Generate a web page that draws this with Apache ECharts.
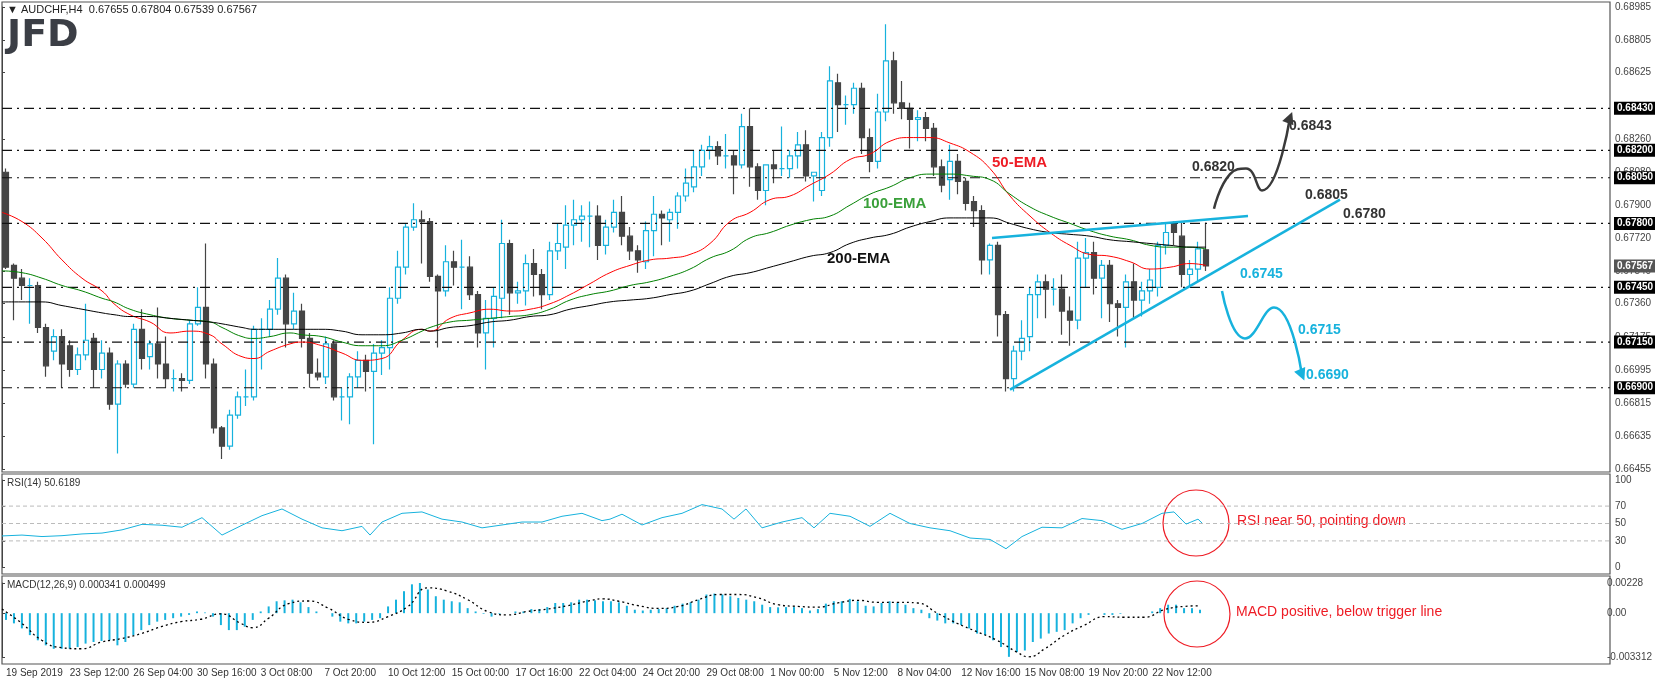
<!DOCTYPE html>
<html><head><meta charset="utf-8">
<script src="https://cdn.jsdelivr.net/npm/echarts@6/dist/echarts.min.js"></script>
<style>html,body{margin:0;padding:0;background:#fff;}#c{width:1655px;height:686px;}</style>
</head><body><div id="c"></div>
<script>
// ---------- DATA ----------
const xLabels = ['19 Sep 2019','23 Sep 12:00','26 Sep 04:00','30 Sep 16:00','3 Oct 08:00','7 Oct 20:00','10 Oct 12:00','15 Oct 00:00','17 Oct 16:00','22 Oct 04:00','24 Oct 20:00','29 Oct 08:00','1 Nov 00:00','5 Nov 12:00','8 Nov 04:00','12 Nov 16:00','15 Nov 08:00','19 Nov 20:00','22 Nov 12:00'];
// 8-hour candles
const opens = [.6808,.6757,.6750,.6746,.6746,.6723,.6710,.6718,.6713,.6700,.6708,.6717,.6700,.6709,.6681,.6703,.6692,.6722,.6707,.6714,
.6703,.6695,.6695,.6694,.6725,.6734,.6703,.6668,.6658,.6675,.6685,.6685,.6722,.6722,.6733,.6750,.6725,.6732,.6717,.6698,
.6696,.6714,.6685,.6685,.6696,.6705,.6699,.6709,.6712,.6739,.6756,.6778,.6782,.6781,.6751,.6743,.6759,.6756,.6756,.6741,
.6720,.6728,.6739,.6769,.6742,.6743,.6758,.6752,.6741,.6765,.6767,.6779,.6782,.6784,.6784,.6768,.6778,.6786,.6773,.6765,
.6759,.6776,.6785,.6782,.6786,.6795,.6800,.6811,.6820,.6822,.6817,.6817,.6812,.6833,.6811,.6798,.6812,.6810,.6810,.6817,
.6823,.6806,.6798,.6827,.6857,.6845,.6845,.6854,.6827,.6814,.6841,.6869,.6846,.6843,.6837,.6838,.6832,.6811,.6804,.6814,
.6803,.6792,.6787,.6760,.6768,.6730,.6695,.6710,.6718,.6741,.6748,.6744,.6744,.6732,.6727,.6761,.6764,.6750,.6757,.6736,
.6734,.6748,.6738,.6743,.6745,.6768,.6780,.6773,.6752,.6755,.67655];
const closes = [.6756,.6750,.6746,.6746,.6723,.6702,.6718,.6703,.6700,.6708,.6716,.6700,.6709,.6681,.6703,.6692,.6722,.6706,.6714,.6703,
.6695,.6695,.6694,.6725,.6734,.6703,.6668,.6658,.6675,.6685,.6685,.6722,.6722,.6733,.6750,.6725,.6732,.6717,.6698,.6696,
.6714,.6685,.6685,.6696,.6705,.6699,.6709,.6712,.6739,.6756,.6778,.6782,.6781,.6751,.6743,.6759,.6756,.6756,.6741,.6720,
.6728,.6740,.6769,.6742,.6743,.6758,.6752,.6741,.6765,.6769,.6779,.6782,.6784,.6784,.6768,.6778,.6786,.6773,.6765,.6760,
.6776,.6785,.6783,.6786,.6795,.6802,.6811,.6820,.6822,.6817,.6817,.6812,.6833,.6811,.6798,.6812,.6810,.6810,.6817,.6823,
.6806,.6808,.6827,.6858,.6845,.6845,.6854,.6827,.6814,.6841,.6869,.6846,.6843,.6837,.6838,.6832,.6811,.6801,.6814,.6803,
.6791,.6787,.6760,.6768,.6730,.6695,.6710,.6717,.6741,.6748,.6744,.6744,.6732,.6727,.6761,.6764,.6750,.6757,.6736,.6734,
.6748,.6738,.6743,.6749,.6768,.6775,.6775,.6752,.6755,.6766,.67567];
const lows = [.6755,.6727,.6738,.6725,.6720,.6696,.6705,.6690,.6696,.6697,.6705,.6690,.6695,.6678,.6654,.6690,.6690,.6700,.6700,.6695,
.6690,.6688,.6688,.6692,.6724,.6695,.6665,.6651,.6656,.6673,.6680,.6683,.6700,.6718,.6730,.6712,.6722,.6712,.6690,.6694,
.6692,.6683,.6672,.6670,.6690,.6688,.6659,.6697,.6700,.6736,.6752,.6776,.6758,.6748,.6712,.6740,.6746,.6733,.6738,.6712,
.6700,.6712,.6728,.6730,.6736,.6735,.6740,.6733,.6738,.6760,.6755,.6768,.6770,.6767,.6760,.6763,.6775,.6768,.6760,.6753,
.6755,.6762,.6768,.6770,.6777,.6792,.6797,.6806,.6815,.6812,.6810,.6796,.6810,.6800,.6793,.6790,.6802,.6806,.6805,.6810,
.6803,.6792,.6795,.6822,.6830,.6834,.6840,.6818,.6808,.6810,.6836,.6840,.6837,.6821,.6825,.6825,.6806,.6797,.6793,.6796,
.6787,.6778,.6752,.6752,.6718,.6688,.6688,.6705,.6710,.6728,.6728,.6735,.6719,.6713,.6722,.6745,.6741,.6728,.6726,.6718,
.6712,.6728,.6729,.6736,.6740,.6763,.6768,.6745,.6745,.6748,.67539];
const highs = [.6810,.6758,.6755,.6750,.6748,.6725,.6722,.6722,.6716,.6712,.6736,.6720,.6716,.6712,.6705,.6705,.6725,.6733,.6716,.6734,
.6718,.6700,.6698,.6727,.6745,.6769,.6706,.6669,.6678,.6688,.6700,.6724,.6728,.6738,.6761,.6752,.6742,.6736,.6720,.6706,
.6718,.6716,.6690,.6698,.6710,.6708,.6714,.6716,.6745,.6765,.6780,.6791,.6787,.6783,.6752,.6768,.6765,.6771,.6762,.6743,
.6738,.6745,.6782,.6771,.6748,.6763,.6766,.6755,.6770,.6780,.6790,.6793,.6790,.6792,.6790,.6782,.6793,.6795,.6778,.6768,
.6781,.6795,.6787,.6788,.6797,.6810,.6820,.6823,.6828,.6825,.6829,.6820,.6840,.6843,.6813,.6812,.6820,.6833,.6820,.6830,
.6831,.6808,.6830,.6866,.6862,.6850,.6857,.6857,.6832,.6851,.6889,.6874,.6858,.6846,.6842,.6841,.6835,.6815,.6823,.6818,
.6805,.6795,.6790,.6769,.6770,.6732,.6713,.6727,.6745,.6752,.6752,.6750,.6752,.6740,.6770,.6772,.6770,.6760,.6760,.6738,
.6752,.6758,.6748,.6755,.6770,.6780,.6781,.6781,.6760,.6770,.67804];
// H4 bar index of indicator samples
const emaBars = [0,5,10,15,20,25,28,32,37,42,47,52,55,60,63,67,72,75,80,85,90,95,100,105,107,112,117,122,127,132,137,142,147,152,157,162,167,172,177,182,187,192,197,202,207,212,217,222,227,232,237,242,247,252,257,262,267,272,277,282,287,292,297,301];
const ema50 = [.6786,.6781,.6772,.6760,.6750,.6743,.6736,.6730,.6726,.6720,.6721,.6719,.6714,.6707,.6706,.6710,.6714,.6715,.6713,.6709,.6705,.6706,.6716,.6722,.6721,.6728,.6731,.6733,.6732,.6733,.6736,.6741,.6747,.6753,.6757,.6760,.6761,.6763,.6769,.6781,.6786,.6793,.6795,.6801,.6807,.6815,.6818,.6825,.6827,.6827,.6824,.6819,.6810,.6795,.6784,.6775,.6768,.6763,.6762,.6759,.6755,.6756,.6758,.6757];
const ema100 = [.6754,.6753,.6750,.6746,.6743,.6739,.6737,.6733,.6730,.6728,.6727,.6726,.6723,.6718,.6717,.6718,.6720,.6719,.6718,.6715,.6713,.6713,.6716,.6721,.6723,.6726,.6727,.6728,.6729,.6730,.6733,.6738,.6741,.6743,.6746,.6748,.6751,.6755,.6761,.6765,.6772,.6775,.6779,.6782,.6784,.6790,.6796,.6800,.6805,.6807,.6807,.6806,.6804,.6796,.6789,.6784,.6780,.6776,.6773,.6771,.6768,.6767,.6767,.6766];
const ema200 = [.6737,.6737,.6737,.6735,.6733,.6731,.6730,.6729,.6729,.6728,.6727,.6726,.6725,.6723,.6722,.6722,.6722,.6722,.6722,.6721,.6719,.6719,.6720,.6722,.6721,.6723,.6724,.6726,.6727,.6729,.6730,.6733,.6735,.6737,.6738,.6739,.6741,.6743,.6747,.6751,.6753,.6756,.6759,.6762,.6764,.6769,.6772,.6774,.6778,.6781,.6783,.6783,.6783,.6780,.6777,.6775,.6774,.6773,.6771,.6770,.6769,.6768,.6767,.6767];
const rsiBars = [0,5,10,15,20,25,30,35,40,45,50,55,60,65,70,75,80,85,90,92,95,100,105,110,115,120,125,130,135,140,145,150,152,155,160,165,170,175,180,183,186,190,195,200,203,207,212,217,222,227,232,237,242,247,251,255,260,265,270,275,280,285,290,293,296,299,300];
const rsi = [35.7,36.7,35,36,38,39,42.7,49,48,45.7,56.7,36.7,48,59,66.7,55,45,41.7,46.7,36.7,51.7,61.7,63.3,55,51.7,45,48.3,51.7,51.7,58.3,61.7,53.3,55,60.7,48.3,56.7,61.7,71.7,66.7,55,66.7,45,51.7,56.7,45,61.7,58.3,46.7,61.7,50,45,41.7,33.3,31.7,21,35,45.7,45,55.7,53.3,43.3,50,61.7,63.3,49.3,55,50.6];
// MACD histogram per 8h candle
const macdHist = [-.00051,-.00077,-.00115,-.00166,-.00205,-.00243,-.00269,-.00269,-.00269,-.00256,-.00230,-.00218,-.00210,-.00205,-.00243,-.00218,-.00166,-.00128,-.00090,-.00064,
-.00051,-.00038,-.00026,-.00013,.00013,.00005,-.00026,-.00090,-.00128,-.00128,-.00102,-.00051,.00013,.00051,.00090,.00097,.00102,.00082,.00046,.00013,
0,-.00026,-.00064,-.00077,-.00077,-.00064,-.00051,-.00038,.00051,.00102,.00166,.00218,.00230,.00179,.00128,.00102,.00090,.00082,.00038,.00013,
-.00005,-.00026,-.00005,0,.00013,.00013,.00031,.00031,.00046,.00077,.00077,.00082,.00102,.00102,.00097,.00090,.00090,.00082,.00056,.00026,
.00020,.00026,.00031,.00038,.00056,.00072,.00082,.00102,.00141,.00148,.00141,.00128,.00115,.00102,.00090,.00064,.00046,.00044,.00046,.00046,
.00038,.00020,.00031,.00072,.00090,.00090,.00108,.00090,.00056,.00051,.00077,.00090,.00077,.00064,.00038,.00026,-.00038,-.00056,-.00077,-.00077,
-.00090,-.00115,-.00154,-.00166,-.00205,-.00256,-.0033,-.00294,-.00282,-.00218,-.00192,-.00154,-.00141,-.00128,-.00077,-.00038,-.00013,0,-.00013,-.00013,
-.00005,0,0,0,.00013,.00038,.00064,.00064,.00038,.00038,.00026];
const sigBars = [0,5,10,15,20,25,30,35,40,45,50,55,60,63,67,72,77,82,87,92,97,102,107,112,117,122,127,132,137,142,147,151,155,160,165,170,175,180,185,190,195,200,205,210,215,220,225,230,235,240,245,250,255,258,262,267,272,277,282,287,292,297,301];
const macdSignal = [.00031,-.00077,-.00205,-.00261,-.00269,-.00218,-.00192,-.00154,-.00102,-.00064,-.00046,-.00005,-.00077,-.00110,-.00038,.00072,.00092,.00038,-.00046,-.00069,-.00026,.00051,.00192,.00166,.00102,.00013,-.00013,.00013,.00031,.00056,.00090,.00108,.00090,.00056,.00036,.00051,.00102,.00141,.00141,.00115,.00064,.00051,.00046,.00077,.00097,.00082,.00082,.00077,0,-.00077,-.00141,-.00205,-.00294,-.0033,-.00269,-.00166,-.00090,-.00026,-.00031,-.00031,.00026,.00051,.00056];
const levels = [0.6843,0.6820,0.6805,0.6780,0.6745,0.6715,0.6690];
const lastPrice = 0.67567;
const priceTicks = [0.68985,0.68805,0.68625,0.6826,0.6808,0.679,0.6772,0.6754,0.6736,0.67175,0.66995,0.66815,0.66635,0.66455];
const rsiTicks = [0,30,50,70,100];
const rsiLevels = [30,50,70];
const macdTicks = [-0.003312,0,0.00228];
// drawn analysis lines: [H4 bar, price]
const supportLine = [[252,0.6689],[334.5,0.6793]];
const resistLine = [[247.5,0.6772],[311.5,0.6784]];
const bullPath = [[303,0.6788],[307,0.6807],[311,0.6810],[315,0.6798],[322,0.6838]];
const bearPath = [[305,0.6743],[310.75,0.6717],[318,0.6734],[325,0.6697]];

// ---------- CHART ----------
const NB = 201, XMAX = 402;
const cats = Array.from({length: NB}, (_, i) => String(i));
const zip = (a, b) => a.map((v, i) => [v, b[i]]);
const candles = opens.map((o, i) => [o, closes[i], lows[i], highs[i]]);
const CY = '#17b2dd', FONT = 'Liberation Sans';
const L = 2, R = 45;
const ch = echarts.init(document.getElementById('c'));
const pathSeries = (data, color, rot) => ({
  type: 'line', xAxisIndex: 1, yAxisIndex: 0, smooth: 0.5, data: data.map((p, i) => ({
    value: p, symbol: i === data.length - 1 ? 'triangle' : 'none', symbolSize: [12, 12], symbolRotate: rot,
    itemStyle: {color}})), lineStyle: {color, width: 2.5}, silent: true, z: 6
});
const levelSeries = (v, bg, visible) => ({
  type: 'line', xAxisIndex: 1, yAxisIndex: 0, data: [[0, v], [XMAX, v]], symbol: 'none', silent: true, z: 3,
  lineStyle: {color: '#111', type: [10, 5, 2, 5], width: 1.2, opacity: visible ? 1 : 0},
  endLabel: {show: true, distance: 4, formatter: v.toFixed(5), color: '#fff', backgroundColor: bg, padding: [2, 3, 1, 3], fontSize: 10, fontWeight: 'bold'}
});
ch.setOption({
  animation: false,
  textStyle: {fontFamily: FONT},
  grid: [
    {left: L, right: R, top: 7, height: 462},
    {left: L, right: R, top: 480, height: 87},
    {left: L, right: R, top: 583, height: 74}
  ],
  xAxis: [
    {type: 'category', data: cats, gridIndex: 0, position: 'bottom', boundaryGap: true, axisLine: {show: false}, axisTick: {show: false}, axisLabel: {show: false}},
    {type: 'value', gridIndex: 0, min: 0, max: XMAX, show: false},
    {type: 'value', gridIndex: 1, min: 0, max: XMAX, show: false},
    {type: 'value', gridIndex: 2, min: 0, max: XMAX, show: false, position: 'top'},
    {type: 'category', data: cats, gridIndex: 2, position: 'bottom', boundaryGap: true, axisLine: {show: false}, axisTick: {show: false},
      axisLabel: {interval: (i) => i % 8 === 0 && i / 8 < xLabels.length, formatter: (v, i) => xLabels[i / 8] || '',
        align: 'left', margin: 11, fontSize: 10, color: '#333'}}
  ],
  yAxis: [
    {type: 'value', gridIndex: 0, position: 'right', min: 0.66455, max: 0.68985, splitLine: {show: false},
      axisLine: {show: true, lineStyle: {color: '#444'}}, axisTick: {show: true, customValues: priceTicks, length: 3, lineStyle: {color: '#444'}},
      axisLabel: {customValues: priceTicks, formatter: v => v.toFixed(5), fontSize: 10, color: '#444', margin: 5}},
    {type: 'value', gridIndex: 1, position: 'right', min: 0, max: 100, splitLine: {show: false},
      axisLine: {show: true, lineStyle: {color: '#444'}}, axisTick: {show: true, customValues: rsiTicks, length: 3},
      axisLabel: {customValues: rsiTicks, fontSize: 10, color: '#444', margin: 5}},
    {type: 'value', gridIndex: 2, position: 'right', min: -0.003312, max: 0.00228, splitLine: {show: false},
      axisLine: {show: true, lineStyle: {color: '#444'}}, axisTick: {show: true, customValues: macdTicks, length: 3},
      axisLabel: {customValues: macdTicks, formatter: v => Math.abs(v) < 1e-9 ? '0.00' : String(v), fontSize: 10, color: '#444', margin: 5}}
  ],
  series: [
    {type: 'candlestick', xAxisIndex: 0, yAxisIndex: 0, data: candles, barWidth: 5,
      itemStyle: {color: '#fff', color0: '#454545', borderColor: CY, borderColor0: '#454545', borderWidth: 1.2}},
    ...levels.map(v => levelSeries(v, '#000', true)),
    levelSeries(lastPrice, '#555', false),
    {type: 'line', xAxisIndex: 1, yAxisIndex: 0, data: zip(emaBars, ema50), smooth: true, symbol: 'none', lineStyle: {color: '#ff0000', width: 1}},
    {type: 'line', xAxisIndex: 1, yAxisIndex: 0, data: zip(emaBars, ema100), smooth: true, symbol: 'none', lineStyle: {color: '#008000', width: 1}},
    {type: 'line', xAxisIndex: 1, yAxisIndex: 0, data: zip(emaBars, ema200), smooth: true, symbol: 'none', lineStyle: {color: '#000', width: 1}},
    {type: 'line', xAxisIndex: 1, yAxisIndex: 0, data: supportLine, symbol: 'none', lineStyle: {color: CY, width: 2.5}, z: 5},
    {type: 'line', xAxisIndex: 1, yAxisIndex: 0, data: resistLine, symbol: 'none', lineStyle: {color: CY, width: 2.5}, z: 5},
    pathSeries(bullPath, '#3a3a3a', -21),
    pathSeries(bearPath, CY, 203),
    ...rsiLevels.map(v => ({type: 'line', xAxisIndex: 2, yAxisIndex: 1, data: [[0, v], [XMAX, v]], symbol: 'none', silent: true,
      lineStyle: {color: '#bbb', type: [4, 3], width: 1}})),
    {type: 'line', xAxisIndex: 2, yAxisIndex: 1, data: zip(rsiBars, rsi), symbol: 'none', lineStyle: {color: CY, width: 1}},
    {type: 'bar', xAxisIndex: 4, yAxisIndex: 2, data: macdHist, barWidth: 2, itemStyle: {color: CY}},
    {type: 'line', xAxisIndex: 3, yAxisIndex: 2, data: zip(sigBars, macdSignal), smooth: true, symbol: 'none', lineStyle: {color: '#000', width: 1.3, type: [2, 3]}}
  ],
  graphic: [
    {type: 'rect', shape: {x: 2, y: 2, width: 1608, height: 470}, style: {fill: 'none', stroke: '#555', lineWidth: 1.2}, silent: true},
    {type: 'rect', shape: {x: 2, y: 474, width: 1608, height: 100}, style: {fill: 'none', stroke: '#555', lineWidth: 1.2}, silent: true},
    {type: 'rect', shape: {x: 2, y: 576, width: 1608, height: 88}, style: {fill: 'none', stroke: '#555', lineWidth: 1.2}, silent: true},
    {type: 'text', left: 7, top: 4, style: {text: '▼ AUDCHF,H4  0.67655 0.67804 0.67539 0.67567', font: '11px ' + FONT, fill: '#222'}},
    {type: 'text', left: 7, top: 17, style: {text: 'JFD', font: 'bold 38px "DejaVu Sans"', fill: '#3b3e45'}},
    {type: 'text', left: 7, top: 478, style: {text: 'RSI(14) 50.6189', font: '10px ' + FONT, fill: '#333'}},
    {type: 'text', left: 7, top: 580, style: {text: 'MACD(12,26,9) 0.000341 0.000499', font: '10px ' + FONT, fill: '#333'}},
    {type: 'text', left: 992, top: 155, style: {text: '50-EMA', font: 'bold 15px ' + FONT, fill: '#ee1c25'}},
    {type: 'text', left: 863, top: 196, style: {text: '100-EMA', font: 'bold 15px ' + FONT, fill: '#3aa03a'}},
    {type: 'text', left: 827, top: 251, style: {text: '200-EMA', font: 'bold 15px ' + FONT, fill: '#111'}},
    {type: 'text', left: 1289, top: 119, style: {text: '0.6843', font: 'bold 14px ' + FONT, fill: '#333'}},
    {type: 'text', left: 1192, top: 160, style: {text: '0.6820', font: 'bold 14px ' + FONT, fill: '#333'}},
    {type: 'text', left: 1305, top: 188, style: {text: '0.6805', font: 'bold 14px ' + FONT, fill: '#333'}},
    {type: 'text', left: 1343, top: 207, style: {text: '0.6780', font: 'bold 14px ' + FONT, fill: '#333'}},
    {type: 'text', left: 1240, top: 267, style: {text: '0.6745', font: 'bold 14px ' + FONT, fill: CY}},
    {type: 'text', left: 1298, top: 323, style: {text: '0.6715', font: 'bold 14px ' + FONT, fill: CY}},
    {type: 'text', left: 1306, top: 368, style: {text: '0.6690', font: 'bold 14px ' + FONT, fill: CY}},
    {type: 'circle', shape: {cx: 1196, cy: 523, r: 33}, style: {fill: 'none', stroke: '#ee1c25', lineWidth: 1.2}},
    {type: 'circle', shape: {cx: 1197, cy: 614, r: 33}, style: {fill: 'none', stroke: '#ee1c25', lineWidth: 1.2}},
    {type: 'text', left: 1237, top: 514, style: {text: 'RSI near 50, pointing down', font: '14px ' + FONT, fill: '#ee1c25'}},
    {type: 'text', left: 1236, top: 605, style: {text: 'MACD positive, below trigger line', font: '14px ' + FONT, fill: '#ee1c25'}}
  ]
});
</script></body></html>
